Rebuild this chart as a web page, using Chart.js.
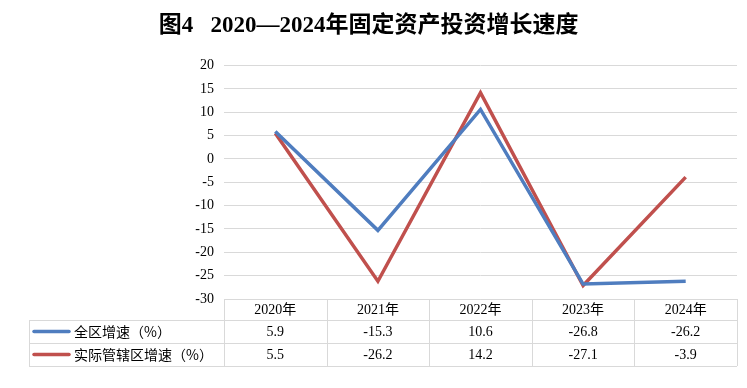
<!DOCTYPE html>
<html>
<head>
<meta charset="utf-8">
<script src="https://cdn.jsdelivr.net/npm/chart.js@4"></script>
<style>
  html, body { margin: 0; padding: 0; background: #fff; }
  #wrap { width: 747px; height: 388px; }
</style>
</head>
<body>
<div id="wrap"><canvas id="growthChart" width="747" height="388"></canvas></div>
<script>
const years = ['2020年', '2021年', '2022年', '2023年', '2024年'];
const seriesNames = ['全区增速（%）', '实际管辖区增速（%）'];
const wholeRegion = [5.9, -15.3, 10.6, -26.8, -26.2];
const managedRegion = [5.5, -26.2, 14.2, -27.1, -3.9];
const seriesColors = ['#4F7DBF', '#C0504D'];

const serif = '"Times New Roman", "Liberation Serif", "Noto Sans CJK SC", serif';
const cjk = '"Noto Sans CJK SC", sans-serif';

// draws the data table under the plot, columns follow the x scale
const dataTable = {
    id: 'dataTable',
    afterDraw(chart) {
        const ctx = chart.ctx;
        const x = chart.scales.x;
        const area = chart.chartArea;
        const half = (x.getPixelForValue(1) - x.getPixelForValue(0)) / 2;
        const left = x.getPixelForValue(0) - half;
        const right = x.getPixelForValue(years.length - 1) + half;
        const tableLeft = 29;
        const rowTop = [area.bottom, area.bottom + 21, area.bottom + 44];
        const rowH = [21, 23, 23];
        const bottom = rowTop[2] + rowH[2];

        ctx.save();
        ctx.strokeStyle = '#D9D9D9';
        ctx.lineWidth = 1;
        ctx.beginPath();
        // horizontal lines
        ctx.moveTo(left, rowTop[0] + 0.5); ctx.lineTo(right, rowTop[0] + 0.5);
        ctx.moveTo(tableLeft, rowTop[1] + 0.5); ctx.lineTo(right, rowTop[1] + 0.5);
        ctx.moveTo(tableLeft, rowTop[2] + 0.5); ctx.lineTo(right, rowTop[2] + 0.5);
        ctx.moveTo(tableLeft, bottom + 0.5); ctx.lineTo(right, bottom + 0.5);
        // vertical lines
        ctx.moveTo(tableLeft + 0.5, rowTop[1]); ctx.lineTo(tableLeft + 0.5, bottom);
        for (let i = 0; i <= years.length; i++) {
            const cx = Math.round(left + i * half * 2) + 0.5;
            ctx.moveTo(cx, rowTop[0]); ctx.lineTo(cx, bottom);
        }
        ctx.stroke();

        ctx.fillStyle = '#000';
        ctx.textAlign = 'center';
        ctx.textBaseline = 'middle';
        ctx.font = '14px ' + serif;
        years.forEach((y, i) => {
            ctx.fillText(y, x.getPixelForValue(i), rowTop[0] + rowH[0] / 2 + 1);
        });

        const rows = [wholeRegion, managedRegion];
        rows.forEach((vals, r) => {
            const cy = rowTop[r + 1] + rowH[r + 1] / 2;
            ctx.font = '14px ' + serif;
            ctx.textAlign = 'center';
            vals.forEach((v, i) => {
                ctx.fillText(v.toFixed(1), x.getPixelForValue(i), cy + 1);
            });
            // legend key
            ctx.strokeStyle = seriesColors[r];
            ctx.lineWidth = 3.5;
            ctx.lineCap = 'round';
            ctx.beginPath();
            ctx.moveTo(34, cy); ctx.lineTo(69, cy);
            ctx.stroke();
            ctx.font = '14px ' + cjk;
            ctx.textAlign = 'left';
            ctx.fillText(seriesNames[r], 74, cy);
        });
        ctx.restore();
    }
};

new Chart(document.getElementById('growthChart'), {
    type: 'line',
    data: {
        labels: years,
        datasets: [
            { label: seriesNames[0], data: wholeRegion, borderColor: seriesColors[0], borderWidth: 3.5, pointRadius: 0, tension: 0 },
            { label: seriesNames[1], data: managedRegion, borderColor: seriesColors[1], borderWidth: 3.5, pointRadius: 0, tension: 0 }
        ]
    },
    options: {
        responsive: false,
        animation: false,
        layout: { padding: { left: 0, right: 10, top: 0, bottom: 89 } },
        plugins: {
            legend: { display: false },
            tooltip: { enabled: false },
            title: {
                display: true,
                text: '图4   2020—2024年固定资产投资增长速度',
                color: '#000',
                font: { family: serif, size: 23, weight: 'bold' },
                padding: { top: 12, bottom: 26 }
            }
        },
        scales: {
            x: {
                display: false,
                offset: true
            },
            y: {
                min: -30,
                max: 20,
                ticks: { stepSize: 5, color: '#000', font: { family: serif, size: 14 }, padding: 10 },
                grid: { color: '#D9D9D9', drawTicks: false },
                border: { display: false },
                afterFit(scale) { scale.width = 224; }
            }
        }
    },
    plugins: [dataTable]
});
</script>
</body>
</html>
